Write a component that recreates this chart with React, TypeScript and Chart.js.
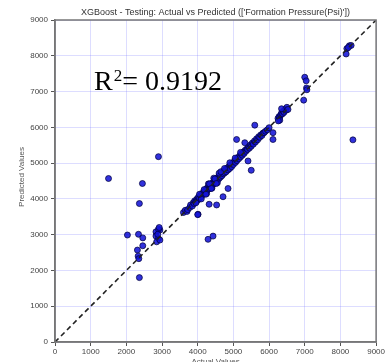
import React, { useEffect, useRef } from "react";
import { Chart, registerables } from "chart.js";

Chart.register(...registerables);

const titleText = "XGBoost - Testing: Actual vs Predicted (['Formation Pressure(Psi)'])";
const xAxisTitle = "Actual Values";
const yAxisTitle = "Predicted Values";
const r2Text = "0.9192";
const axisMin = 0;
const axisMax = 9000;
const axisStep = 1000;

// Actual values (x) and predicted values (y)
const actualValues = [
  // low outliers / cluster near 2000-3000
  1500, 2030, 2340, 2460, 2460, 2310, 2330, 2350, 2365, 2365, 2450, 2900,
  2830, 2940, 2830, 2900, 2850, 2940, 2900, 2880, 2920,
  // band 3600-6000
  3600, 3650, 3700, 3720, 3780, 3800, 3850, 3880, 3900, 3920, 3950, 3980,
  4000, 4020, 4050, 4080, 4100, 4120, 4150, 4170, 4200, 4220, 4240, 4260,
  4280, 4300, 4320, 4340, 4360, 4380, 4400, 4420, 4440, 4460, 4480, 4500,
  4520, 4540, 4560, 4580, 4600, 4620, 4640, 4660, 4680, 4700, 4720, 4740,
  4760, 4780, 4800, 4820, 4850, 4870, 4900, 4920, 4950, 4980, 5000, 5030,
  5060, 5080, 5100, 5130, 5150, 5180, 5200, 5230, 5250, 5280, 5300, 5330,
  5350, 5380, 5400, 5430, 5450, 5480, 5500, 5530, 5560, 5590, 5620, 5650,
  5680, 5710, 5740, 5770, 5800, 5830, 5860, 5900, 5950, 6000,
  4100, 4250, 4400, 4550, 4300, 4450, 4600, 4180, 4330, 4480, 4650, 4750,
  4900, 5050, 5200, 4050, 3950, 4230, 4380, 4520,
  // band outliers
  4010, 4320, 4530, 4710, 4850, 5500, 5410, 5090, 5320, 5600, 6110, 6110,
  4290, 4430, 4000,
  // 6200-6500 cluster
  6250, 6280, 6300, 6330, 6350, 6380, 6400, 6420, 6450, 6480, 6300, 6260,
  6350, 6500, 6530,
  // 7000 cluster
  7000, 7040, 7050, 7060, 6970,
  // top right
  8180, 8250, 8300, 8220, 8160, 8350,
];

const predictedValues = [
  4570, 2990, 3010, 2910, 2690, 2570, 2400, 2330, 3870, 1800, 4430, 5180,
  3080, 3130, 2960, 2890, 2800, 2850, 3150, 3010, 3200,
  3620, 3680, 3650, 3700, 3760, 3830, 3800, 3900, 3870, 3950, 3930, 4000,
  3960, 4050, 4020, 4100, 4060, 4150, 4120, 4200, 4160, 4250, 4200, 4300,
  4260, 4330, 4280, 4370, 4330, 4420, 4370, 4450, 4410, 4500, 4460, 4540,
  4480, 4580, 4530, 4620, 4570, 4660, 4610, 4700, 4650, 4740, 4700, 4780,
  4730, 4820, 4760, 4860, 4810, 4900, 4850, 4950, 4900, 5000, 4960, 5060,
  5020, 5110, 5070, 5160, 5120, 5210, 5170, 5260, 5220, 5310, 5270, 5360,
  5330, 5400, 5380, 5460, 5420, 5510, 5470, 5560, 5530, 5620, 5590, 5680,
  5650, 5740, 5720, 5790, 5770, 5840, 5850, 5890, 5930, 5990,
  4000, 4150, 4300, 4450, 4420, 4580, 4720, 4260, 4420, 4560, 4760, 4850,
  5010, 5140, 5300, 4130, 3890, 4130, 4290, 4430,
  3570, 3850, 3830, 4060, 4290, 4800, 5060, 5660, 5570, 6060, 5850, 5660,
  2870, 2960, 3560,
  6250, 6300, 6280, 6350, 6400, 6380, 6450, 6420, 6500, 6480, 6200, 6180,
  6520, 6560, 6500,
  7400, 7300, 7100, 7050, 6760,
  8200, 8280, 8290, 8230, 8050, 5650,
];

export default function App() {
  const canvasRef = useRef<HTMLCanvasElement | null>(null);

  useEffect(() => {
    document.body.style.margin = "0";
    const canvas = canvasRef.current;
    if (!canvas) return;

    const points = actualValues.map((x, i) => ({ x, y: predictedValues[i] }));

    const overlay = {
      id: "overlay",
      afterDraw(chart: any) {
        const { ctx, chartArea } = chart;
        const { left, right, top, bottom } = chartArea;
        ctx.save();
        // frame
        ctx.strokeStyle = "#777";
        ctx.lineWidth = 1.5;
        ctx.strokeRect(left, top, right - left, bottom - top);
        // title
        ctx.fillStyle = "#333";
        ctx.font = "9px 'Liberation Sans', Arial, sans-serif";
        ctx.textAlign = "center";
        ctx.textBaseline = "middle";
        ctx.fillText(titleText, (left + right) / 2, 13);
        // x axis title
        ctx.fillStyle = "#555";
        ctx.font = "8px 'Liberation Sans', Arial, sans-serif";
        ctx.fillText(xAxisTitle, (left + right) / 2, 362);
        // y axis title
        ctx.save();
        ctx.translate(22, (top + bottom) / 2 - 4);
        ctx.rotate(-Math.PI / 2);
        ctx.fillText(yAxisTitle, 0, 0);
        ctx.restore();
        // R^2 text
        ctx.fillStyle = "#000";
        ctx.textAlign = "left";
        ctx.textBaseline = "alphabetic";
        let x = 94;
        const base = 90;
        ctx.font = "28px 'Liberation Serif', 'Times New Roman', serif";
        ctx.fillText("R", x, base);
        x += ctx.measureText("R").width;
        ctx.font = "17px 'Liberation Serif', 'Times New Roman', serif";
        ctx.fillText("2", x + 1, base - 9);
        x += ctx.measureText("2").width + 1;
        ctx.font = "28px 'Liberation Serif', 'Times New Roman', serif";
        ctx.fillText("= " + r2Text, x, base);
        ctx.restore();
      },
    };

    const tickFont = { size: 8, family: "'Liberation Sans', Arial, sans-serif" };
    const plainTick = (v: any) => String(v);

    const chart = new Chart(canvas, {
      type: "scatter",
      data: {
        datasets: [
          {
            type: "scatter",
            label: "points",
            data: points,
            backgroundColor: "rgba(20,20,215,0.88)",
            borderColor: "rgba(0,0,60,0.9)",
            borderWidth: 0.8,
            pointRadius: 3,
            order: 2,
          },
          {
            type: "line",
            label: "ideal",
            data: [
              { x: axisMin, y: axisMin },
              { x: axisMax, y: axisMax },
            ],
            borderColor: "#222",
            borderWidth: 1.6,
            borderDash: [5, 3.5],
            pointRadius: 0,
            fill: false,
            order: 1,
          },
        ],
      },
      options: {
        responsive: false,
        animation: false,
        layout: { padding: { top: 20, right: 9, left: 0, bottom: 0 } },
        plugins: {
          legend: { display: false },
          tooltip: { enabled: false },
          title: { display: false },
        },
        scales: {
          x: {
            type: "linear",
            min: axisMin,
            max: axisMax,
            afterFit(scale: any) {
              scale.height = 20;
            },
            ticks: {
              stepSize: axisStep,
              color: "#444",
              font: tickFont,
              padding: 1,
              maxRotation: 0,
              autoSkip: false,
              callback: plainTick,
            },
            grid: {
              color: "rgba(100,100,255,0.22)",
              lineWidth: 1,
              tickColor: "#555",
              tickLength: 4,
            },
            border: { color: "#777", width: 1.5 },
          },
          y: {
            type: "linear",
            min: axisMin,
            max: axisMax,
            afterFit(scale: any) {
              scale.width = 55;
            },
            ticks: {
              stepSize: axisStep,
              color: "#444",
              font: tickFont,
              padding: 3,
              autoSkip: false,
              callback: plainTick,
            },
            grid: {
              color: "rgba(100,100,255,0.22)",
              lineWidth: 1,
              tickColor: "#555",
              tickLength: 4,
            },
            border: { color: "#777", width: 1.5 },
          },
        },
      },
      plugins: [overlay],
    } as any);

    return () => chart.destroy();
  }, []);

  return (
    <div style={{ width: 386, height: 362, position: "relative", background: "#fff" }}>
      <canvas ref={canvasRef} width={386} height={362} style={{ display: "block" }} />
    </div>
  );
}
